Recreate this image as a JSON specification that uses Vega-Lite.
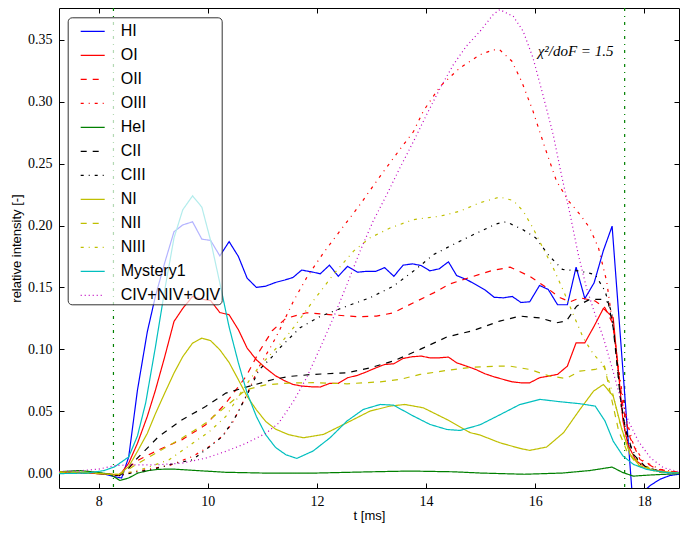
{
  "$schema": "https://vega.github.io/schema/vega-lite/v6.json",
  "width": 620,
  "height": 480,
  "autosize": {"type": "none"},
  "padding": {"left": 59, "top": 8, "right": 10, "bottom": 45},
  "background": "white",
  "config": {
    "view": {"stroke": "black", "strokeWidth": 1},
    "axis": {
      "domain": false, "grid": false, "tickSize": -5, "tickColor": "black", "tickWidth": 1,
      "labelFont": "Liberation Serif", "labelFontSize": 14, "labelColor": "black",
      "titleFont": "Liberation Sans", "titleFontSize": 13, "titleFontWeight": "normal", "titleColor": "black"
    },
    "legend": {
      "orient": "none", "legendX": 8.7, "legendY": 9.3, "padding": 1, "rowPadding": 3,
      "symbolType": "stroke", "symbolSize": 576, "symbolStrokeWidth": 1.2, "symbolOffset": 11,
      "labelOffset": 15, "labelFont": "Liberation Sans", "labelFontSize": 16, "labelColor": "black",
      "fillColor": "rgba(255,255,255,0.7)", "strokeColor": "#333333", "cornerRadius": 4
    }
  },
  "datasets": {
    "vlines": [{"t": 8.27}, {"t": 17.64}],
    "note": [{"t": 16.74, "v": 0.341, "label": "χ²/doF = 1.5"}],
    "lines": [
      {"s":"HI","t":7.27,"v":0.0005},{"s":"HI","t":7.6,"v":0.0005},{"s":"HI","t":7.95,"v":0.0},{"s":"HI","t":8.12,"v":-0.001},{"s":"HI","t":8.29,"v":-0.003},{"s":"HI","t":8.42,"v":-0.004},{"s":"HI","t":8.55,"v":0.013},{"s":"HI","t":8.71,"v":0.067},{"s":"HI","t":8.89,"v":0.114},{"s":"HI","t":9.04,"v":0.143},{"s":"HI","t":9.21,"v":0.17},{"s":"HI","t":9.38,"v":0.195},{"s":"HI","t":9.54,"v":0.2005},{"s":"HI","t":9.72,"v":0.203},{"s":"HI","t":9.89,"v":0.189},{"s":"HI","t":10.05,"v":0.188},{"s":"HI","t":10.22,"v":0.1755},{"s":"HI","t":10.39,"v":0.187},{"s":"HI","t":10.56,"v":0.175},{"s":"HI","t":10.72,"v":0.1575},{"s":"HI","t":10.89,"v":0.15},{"s":"HI","t":11.06,"v":0.151},{"s":"HI","t":11.24,"v":0.154},{"s":"HI","t":11.41,"v":0.156},{"s":"HI","t":11.56,"v":0.158},{"s":"HI","t":11.72,"v":0.164},{"s":"HI","t":11.9,"v":0.1626},{"s":"HI","t":12.06,"v":0.161},{"s":"HI","t":12.23,"v":0.168},{"s":"HI","t":12.39,"v":0.159},{"s":"HI","t":12.56,"v":0.167},{"s":"HI","t":12.74,"v":0.1623},{"s":"HI","t":12.91,"v":0.163},{"s":"HI","t":13.08,"v":0.163},{"s":"HI","t":13.24,"v":0.166},{"s":"HI","t":13.41,"v":0.159},{"s":"HI","t":13.58,"v":0.168},{"s":"HI","t":13.75,"v":0.169},{"s":"HI","t":13.91,"v":0.1677},{"s":"HI","t":14.07,"v":0.1634},{"s":"HI","t":14.24,"v":0.165},{"s":"HI","t":14.41,"v":0.1707},{"s":"HI","t":14.56,"v":0.1596},{"s":"HI","t":14.74,"v":0.1564},{"s":"HI","t":14.91,"v":0.1523},{"s":"HI","t":15.08,"v":0.148},{"s":"HI","t":15.25,"v":0.142},{"s":"HI","t":15.42,"v":0.1416},{"s":"HI","t":15.58,"v":0.1427},{"s":"HI","t":15.74,"v":0.1378},{"s":"HI","t":15.9,"v":0.1384},{"s":"HI","t":16.08,"v":0.1516},{"s":"HI","t":16.24,"v":0.1483},{"s":"HI","t":16.41,"v":0.136},{"s":"HI","t":16.59,"v":0.136},{"s":"HI","t":16.75,"v":0.1664},{"s":"HI","t":16.91,"v":0.141},{"s":"HI","t":17.08,"v":0.1537},{"s":"HI","t":17.25,"v":0.1798},{"s":"HI","t":17.41,"v":0.1995},{"s":"HI","t":17.8,"v":-0.03},{"s":"HI","t":17.96,"v":-0.016},{"s":"HI","t":18.11,"v":-0.01},{"s":"HI","t":18.29,"v":-0.005},{"s":"HI","t":18.47,"v":-0.002},{"s":"HI","t":18.64,"v":-0.001},
      {"s":"OI","t":7.27,"v":0.0005},{"s":"OI","t":7.8,"v":0.0},{"s":"OI","t":8.2,"v":-0.001},{"s":"OI","t":8.38,"v":-0.002},{"s":"OI","t":8.55,"v":0.008},{"s":"OI","t":8.71,"v":0.024},{"s":"OI","t":8.89,"v":0.0457},{"s":"OI","t":9.04,"v":0.067},{"s":"OI","t":9.21,"v":0.094},{"s":"OI","t":9.38,"v":0.1225},{"s":"OI","t":9.54,"v":0.133},{"s":"OI","t":9.72,"v":0.1427},{"s":"OI","t":9.89,"v":0.1405},{"s":"OI","t":10.05,"v":0.1394},{"s":"OI","t":10.22,"v":0.1297},{"s":"OI","t":10.39,"v":0.1279},{"s":"OI","t":10.56,"v":0.1158},{"s":"OI","t":10.72,"v":0.101},{"s":"OI","t":10.89,"v":0.0915},{"s":"OI","t":11.06,"v":0.0848},{"s":"OI","t":11.24,"v":0.0786},{"s":"OI","t":11.41,"v":0.0745},{"s":"OI","t":11.56,"v":0.0716},{"s":"OI","t":11.72,"v":0.0703},{"s":"OI","t":11.9,"v":0.0697},{"s":"OI","t":12.06,"v":0.0695},{"s":"OI","t":12.23,"v":0.0724},{"s":"OI","t":12.39,"v":0.0724},{"s":"OI","t":12.56,"v":0.077},{"s":"OI","t":12.74,"v":0.0789},{"s":"OI","t":12.91,"v":0.0818},{"s":"OI","t":13.08,"v":0.085},{"s":"OI","t":13.24,"v":0.0877},{"s":"OI","t":13.41,"v":0.0883},{"s":"OI","t":13.58,"v":0.0926},{"s":"OI","t":13.75,"v":0.094},{"s":"OI","t":13.91,"v":0.0945},{"s":"OI","t":14.07,"v":0.0931},{"s":"OI","t":14.24,"v":0.0931},{"s":"OI","t":14.41,"v":0.0937},{"s":"OI","t":14.56,"v":0.0891},{"s":"OI","t":14.74,"v":0.0864},{"s":"OI","t":14.91,"v":0.0837},{"s":"OI","t":15.08,"v":0.0802},{"s":"OI","t":15.25,"v":0.0777},{"s":"OI","t":15.42,"v":0.0756},{"s":"OI","t":15.58,"v":0.0737},{"s":"OI","t":15.74,"v":0.0729},{"s":"OI","t":15.9,"v":0.0729},{"s":"OI","t":16.08,"v":0.077},{"s":"OI","t":16.24,"v":0.0783},{"s":"OI","t":16.41,"v":0.0797},{"s":"OI","t":16.59,"v":0.0864},{"s":"OI","t":16.75,"v":0.1052},{"s":"OI","t":16.91,"v":0.1052},{"s":"OI","t":17.08,"v":0.1187},{"s":"OI","t":17.25,"v":0.133},{"s":"OI","t":17.37,"v":0.128},{"s":"OI","t":17.43,"v":0.1254},{"s":"OI","t":17.5,"v":0.093},{"s":"OI","t":17.56,"v":0.066},{"s":"OI","t":17.61,"v":0.042},{"s":"OI","t":17.7,"v":0.023},{"s":"OI","t":17.85,"v":0.0097},{"s":"OI","t":18.1,"v":0.003},{"s":"OI","t":18.41,"v":0.0005},{"s":"OI","t":18.64,"v":0.0},
      {"s":"OII","t":7.27,"v":0.0005},{"s":"OII","t":7.8,"v":0.0},{"s":"OII","t":8.2,"v":-0.001},{"s":"OII","t":8.38,"v":-0.001},{"s":"OII","t":8.55,"v":0.004},{"s":"OII","t":8.68,"v":0.0094},{"s":"OII","t":9.1,"v":0.0188},{"s":"OII","t":9.53,"v":0.027},{"s":"OII","t":9.96,"v":0.039},{"s":"OII","t":10.33,"v":0.0565},{"s":"OII","t":10.7,"v":0.078},{"s":"OII","t":10.94,"v":0.098},{"s":"OII","t":11.18,"v":0.115},{"s":"OII","t":11.43,"v":0.125},{"s":"OII","t":11.81,"v":0.1295},{"s":"OII","t":12.36,"v":0.1276},{"s":"OII","t":12.73,"v":0.1263},{"s":"OII","t":13.09,"v":0.1268},{"s":"OII","t":13.4,"v":0.1295},{"s":"OII","t":13.77,"v":0.1376},{"s":"OII","t":14.14,"v":0.1456},{"s":"OII","t":14.44,"v":0.1529},{"s":"OII","t":14.87,"v":0.159},{"s":"OII","t":15.2,"v":0.1635},{"s":"OII","t":15.54,"v":0.1664},{"s":"OII","t":15.9,"v":0.159},{"s":"OII","t":16.21,"v":0.1497},{"s":"OII","t":16.46,"v":0.1416},{"s":"OII","t":16.64,"v":0.1384},{"s":"OII","t":16.82,"v":0.1416},{"s":"OII","t":17.1,"v":0.139},{"s":"OII","t":17.28,"v":0.1335},{"s":"OII","t":17.43,"v":0.12},{"s":"OII","t":17.52,"v":0.085},{"s":"OII","t":17.61,"v":0.0527},{"s":"OII","t":17.74,"v":0.0285},{"s":"OII","t":17.92,"v":0.011},{"s":"OII","t":18.23,"v":0.003},{"s":"OII","t":18.64,"v":0.0005},
      {"s":"OIII","t":7.27,"v":0.0005},{"s":"OIII","t":7.8,"v":0.0},{"s":"OIII","t":8.2,"v":-0.001},{"s":"OIII","t":8.38,"v":-0.002},{"s":"OIII","t":8.55,"v":0.0},{"s":"OIII","t":8.86,"v":0.0027},{"s":"OIII","t":9.29,"v":0.006},{"s":"OIII","t":9.72,"v":0.0134},{"s":"OIII","t":10.03,"v":0.0215},{"s":"OIII","t":10.27,"v":0.03},{"s":"OIII","t":10.45,"v":0.0404},{"s":"OIII","t":10.7,"v":0.062},{"s":"OIII","t":10.94,"v":0.086},{"s":"OIII","t":11.18,"v":0.104},{"s":"OIII","t":11.32,"v":0.116},{"s":"OIII","t":11.57,"v":0.139},{"s":"OIII","t":11.81,"v":0.1578},{"s":"OIII","t":12.12,"v":0.178},{"s":"OIII","t":12.42,"v":0.1955},{"s":"OIII","t":12.79,"v":0.217},{"s":"OIII","t":13.16,"v":0.24},{"s":"OIII","t":13.52,"v":0.2615},{"s":"OIII","t":13.77,"v":0.276},{"s":"OIII","t":13.95,"v":0.2925},{"s":"OIII","t":14.26,"v":0.3126},{"s":"OIII","t":14.62,"v":0.3274},{"s":"OIII","t":14.99,"v":0.338},{"s":"OIII","t":15.23,"v":0.342},{"s":"OIII","t":15.35,"v":0.342},{"s":"OIII","t":15.57,"v":0.333},{"s":"OIII","t":15.75,"v":0.3166},{"s":"OIII","t":15.96,"v":0.2925},{"s":"OIII","t":16.18,"v":0.2628},{"s":"OIII","t":16.39,"v":0.236},{"s":"OIII","t":16.61,"v":0.22},{"s":"OIII","t":16.82,"v":0.209},{"s":"OIII","t":17.0,"v":0.198},{"s":"OIII","t":17.16,"v":0.182},{"s":"OIII","t":17.31,"v":0.155},{"s":"OIII","t":17.43,"v":0.1174},{"s":"OIII","t":17.56,"v":0.0743},{"s":"OIII","t":17.68,"v":0.042},{"s":"OIII","t":17.8,"v":0.023},{"s":"OIII","t":17.98,"v":0.0097},{"s":"OIII","t":18.29,"v":0.003},{"s":"OIII","t":18.64,"v":0.0005},
      {"s":"HeI","t":7.27,"v":0.001},{"s":"HeI","t":7.64,"v":0.002},{"s":"HeI","t":8.0,"v":0.0005},{"s":"HeI","t":8.2,"v":-0.001},{"s":"HeI","t":8.39,"v":-0.006},{"s":"HeI","t":8.55,"v":-0.004},{"s":"HeI","t":8.72,"v":0.0},{"s":"HeI","t":8.91,"v":0.002},{"s":"HeI","t":9.1,"v":0.003},{"s":"HeI","t":9.36,"v":0.0032},{"s":"HeI","t":9.72,"v":0.0022},{"s":"HeI","t":10.33,"v":0.0006},{"s":"HeI","t":11.0,"v":0.0},{"s":"HeI","t":12.0,"v":0.0},{"s":"HeI","t":13.0,"v":0.001},{"s":"HeI","t":13.7,"v":0.0016},{"s":"HeI","t":14.5,"v":0.001},{"s":"HeI","t":15.0,"v":0.0},{"s":"HeI","t":15.8,"v":-0.001},{"s":"HeI","t":16.5,"v":0.0},{"s":"HeI","t":17.0,"v":0.002},{"s":"HeI","t":17.41,"v":0.0048},{"s":"HeI","t":17.6,"v":0.0005},{"s":"HeI","t":17.8,"v":-0.0025},{"s":"HeI","t":18.1,"v":-0.0016},{"s":"HeI","t":18.64,"v":-0.0005},
      {"s":"CII","t":7.27,"v":0.0005},{"s":"CII","t":7.8,"v":0.0},{"s":"CII","t":8.2,"v":-0.001},{"s":"CII","t":8.38,"v":-0.002},{"s":"CII","t":8.55,"v":0.004},{"s":"CII","t":8.68,"v":0.0107},{"s":"CII","t":9.1,"v":0.0296},{"s":"CII","t":9.53,"v":0.043},{"s":"CII","t":9.96,"v":0.0538},{"s":"CII","t":10.33,"v":0.0646},{"s":"CII","t":10.75,"v":0.07},{"s":"CII","t":11.18,"v":0.0754},{"s":"CII","t":11.48,"v":0.078},{"s":"CII","t":11.93,"v":0.0797},{"s":"CII","t":12.55,"v":0.081},{"s":"CII","t":12.97,"v":0.085},{"s":"CII","t":13.4,"v":0.0905},{"s":"CII","t":13.89,"v":0.0999},{"s":"CII","t":14.38,"v":0.1099},{"s":"CII","t":14.87,"v":0.1152},{"s":"CII","t":15.35,"v":0.1228},{"s":"CII","t":15.72,"v":0.1268},{"s":"CII","t":16.09,"v":0.1254},{"s":"CII","t":16.39,"v":0.1214},{"s":"CII","t":16.57,"v":0.1228},{"s":"CII","t":16.76,"v":0.1349},{"s":"CII","t":17.0,"v":0.1403},{"s":"CII","t":17.25,"v":0.1403},{"s":"CII","t":17.34,"v":0.1376},{"s":"CII","t":17.43,"v":0.1174},{"s":"CII","t":17.5,"v":0.0877},{"s":"CII","t":17.56,"v":0.0608},{"s":"CII","t":17.65,"v":0.0366},{"s":"CII","t":17.8,"v":0.015},{"s":"CII","t":18.04,"v":0.0043},{"s":"CII","t":18.4,"v":0.0005},{"s":"CII","t":18.64,"v":0.0},
      {"s":"CIII","t":7.27,"v":0.0005},{"s":"CIII","t":7.8,"v":0.0},{"s":"CIII","t":8.2,"v":-0.001},{"s":"CIII","t":8.38,"v":-0.002},{"s":"CIII","t":8.6,"v":0.0},{"s":"CIII","t":9.0,"v":0.003},{"s":"CIII","t":9.29,"v":0.0067},{"s":"CIII","t":9.72,"v":0.0107},{"s":"CIII","t":9.96,"v":0.0188},{"s":"CIII","t":10.27,"v":0.0296},{"s":"CIII","t":10.51,"v":0.0457},{"s":"CIII","t":10.75,"v":0.066},{"s":"CIII","t":10.94,"v":0.0834},{"s":"CIII","t":11.18,"v":0.094},{"s":"CIII","t":11.32,"v":0.1012},{"s":"CIII","t":11.69,"v":0.1174},{"s":"CIII","t":12.06,"v":0.1266},{"s":"CIII","t":12.55,"v":0.1349},{"s":"CIII","t":12.97,"v":0.1416},{"s":"CIII","t":13.4,"v":0.151},{"s":"CIII","t":13.77,"v":0.1632},{"s":"CIII","t":14.14,"v":0.1766},{"s":"CIII","t":14.5,"v":0.1847},{"s":"CIII","t":14.87,"v":0.1927},{"s":"CIII","t":15.29,"v":0.2014},{"s":"CIII","t":15.47,"v":0.203},{"s":"CIII","t":15.77,"v":0.1968},{"s":"CIII","t":16.01,"v":0.19},{"s":"CIII","t":16.26,"v":0.1753},{"s":"CIII","t":16.5,"v":0.1645},{"s":"CIII","t":16.82,"v":0.1632},{"s":"CIII","t":17.1,"v":0.1604},{"s":"CIII","t":17.28,"v":0.147},{"s":"CIII","t":17.41,"v":0.128},{"s":"CIII","t":17.5,"v":0.0905},{"s":"CIII","t":17.58,"v":0.0527},{"s":"CIII","t":17.7,"v":0.0258},{"s":"CIII","t":17.92,"v":0.007},{"s":"CIII","t":18.29,"v":0.0008},{"s":"CIII","t":18.64,"v":0.0},
      {"s":"NI","t":7.27,"v":0.001},{"s":"NI","t":7.8,"v":0.0005},{"s":"NI","t":8.2,"v":-0.001},{"s":"NI","t":8.38,"v":-0.001},{"s":"NI","t":8.55,"v":0.0053},{"s":"NI","t":8.71,"v":0.0175},{"s":"NI","t":8.89,"v":0.032},{"s":"NI","t":9.04,"v":0.048},{"s":"NI","t":9.21,"v":0.0646},{"s":"NI","t":9.38,"v":0.0808},{"s":"NI","t":9.54,"v":0.094},{"s":"NI","t":9.72,"v":0.105},{"s":"NI","t":9.89,"v":0.109},{"s":"NI","t":10.05,"v":0.107},{"s":"NI","t":10.22,"v":0.0996},{"s":"NI","t":10.39,"v":0.0893},{"s":"NI","t":10.56,"v":0.0754},{"s":"NI","t":10.72,"v":0.0619},{"s":"NI","t":10.89,"v":0.0511},{"s":"NI","t":11.06,"v":0.0417},{"s":"NI","t":11.24,"v":0.0355},{"s":"NI","t":11.48,"v":0.031},{"s":"NI","t":11.75,"v":0.0285},{"s":"NI","t":12.12,"v":0.0312},{"s":"NI","t":12.55,"v":0.0406},{"s":"NI","t":12.97,"v":0.05},{"s":"NI","t":13.34,"v":0.0541},{"s":"NI","t":13.61,"v":0.0554},{"s":"NI","t":13.95,"v":0.0527},{"s":"NI","t":14.38,"v":0.0433},{"s":"NI","t":14.81,"v":0.0326},{"s":"NI","t":14.99,"v":0.0307},{"s":"NI","t":15.35,"v":0.0245},{"s":"NI","t":15.72,"v":0.0199},{"s":"NI","t":15.9,"v":0.0183},{"s":"NI","t":16.21,"v":0.021},{"s":"NI","t":16.52,"v":0.0326},{"s":"NI","t":16.82,"v":0.0514},{"s":"NI","t":17.07,"v":0.0662},{"s":"NI","t":17.25,"v":0.0716},{"s":"NI","t":17.43,"v":0.0622},{"s":"NI","t":17.58,"v":0.0366},{"s":"NI","t":17.74,"v":0.015},{"s":"NI","t":17.92,"v":0.0057},{"s":"NI","t":18.23,"v":0.0016},{"s":"NI","t":18.64,"v":0.0},
      {"s":"NII","t":7.27,"v":0.0005},{"s":"NII","t":7.8,"v":0.0},{"s":"NII","t":8.2,"v":-0.001},{"s":"NII","t":8.38,"v":-0.001},{"s":"NII","t":8.55,"v":0.003},{"s":"NII","t":8.68,"v":0.0067},{"s":"NII","t":9.1,"v":0.0175},{"s":"NII","t":9.53,"v":0.0283},{"s":"NII","t":9.96,"v":0.0404},{"s":"NII","t":10.33,"v":0.0538},{"s":"NII","t":10.7,"v":0.0673},{"s":"NII","t":11.06,"v":0.0713},{"s":"NII","t":11.48,"v":0.0727},{"s":"NII","t":11.93,"v":0.073},{"s":"NII","t":12.55,"v":0.0721},{"s":"NII","t":13.16,"v":0.0737},{"s":"NII","t":13.52,"v":0.0756},{"s":"NII","t":13.89,"v":0.0797},{"s":"NII","t":14.38,"v":0.0829},{"s":"NII","t":14.87,"v":0.0856},{"s":"NII","t":15.35,"v":0.0864},{"s":"NII","t":15.54,"v":0.0864},{"s":"NII","t":15.9,"v":0.0837},{"s":"NII","t":16.27,"v":0.0783},{"s":"NII","t":16.57,"v":0.0764},{"s":"NII","t":16.82,"v":0.0824},{"s":"NII","t":17.1,"v":0.0837},{"s":"NII","t":17.27,"v":0.0864},{"s":"NII","t":17.41,"v":0.058},{"s":"NII","t":17.53,"v":0.034},{"s":"NII","t":17.68,"v":0.0178},{"s":"NII","t":17.89,"v":0.0057},{"s":"NII","t":18.25,"v":0.0008},{"s":"NII","t":18.64,"v":0.0},
      {"s":"NIII","t":7.27,"v":0.0005},{"s":"NIII","t":7.8,"v":0.0},{"s":"NIII","t":8.2,"v":-0.001},{"s":"NIII","t":8.38,"v":-0.001},{"s":"NIII","t":8.6,"v":0.001},{"s":"NIII","t":8.86,"v":0.004},{"s":"NIII","t":9.29,"v":0.0107},{"s":"NIII","t":9.72,"v":0.024},{"s":"NIII","t":10.03,"v":0.0336},{"s":"NIII","t":10.33,"v":0.0457},{"s":"NIII","t":10.64,"v":0.0673},{"s":"NIII","t":10.94,"v":0.086},{"s":"NIII","t":11.32,"v":0.1039},{"s":"NIII","t":11.57,"v":0.1174},{"s":"NIII","t":11.93,"v":0.139},{"s":"NIII","t":12.3,"v":0.1604},{"s":"NIII","t":12.67,"v":0.1793},{"s":"NIII","t":12.97,"v":0.19},{"s":"NIII","t":13.34,"v":0.198},{"s":"NIII","t":13.77,"v":0.2048},{"s":"NIII","t":14.26,"v":0.2076},{"s":"NIII","t":14.62,"v":0.2116},{"s":"NIII","t":14.99,"v":0.2185},{"s":"NIII","t":15.35,"v":0.223},{"s":"NIII","t":15.6,"v":0.2202},{"s":"NIII","t":15.78,"v":0.2116},{"s":"NIII","t":15.96,"v":0.198},{"s":"NIII","t":16.14,"v":0.182},{"s":"NIII","t":16.33,"v":0.1658},{"s":"NIII","t":16.52,"v":0.147},{"s":"NIII","t":16.7,"v":0.128},{"s":"NIII","t":16.88,"v":0.1093},{"s":"NIII","t":17.07,"v":0.0958},{"s":"NIII","t":17.25,"v":0.0877},{"s":"NIII","t":17.41,"v":0.066},{"s":"NIII","t":17.56,"v":0.0393},{"s":"NIII","t":17.7,"v":0.0204},{"s":"NIII","t":17.92,"v":0.007},{"s":"NIII","t":18.29,"v":0.0008},{"s":"NIII","t":18.64,"v":0.0},
      {"s":"Mystery1","t":7.27,"v":-0.0005},{"s":"Mystery1","t":7.8,"v":0.0},{"s":"Mystery1","t":8.1,"v":0.002},{"s":"Mystery1","t":8.29,"v":0.005},{"s":"Mystery1","t":8.55,"v":0.013},{"s":"Mystery1","t":8.71,"v":0.03},{"s":"Mystery1","t":8.86,"v":0.0565},{"s":"Mystery1","t":9.04,"v":0.102},{"s":"Mystery1","t":9.21,"v":0.148},{"s":"Mystery1","t":9.38,"v":0.19},{"s":"Mystery1","t":9.54,"v":0.2127},{"s":"Mystery1","t":9.72,"v":0.224},{"s":"Mystery1","t":9.89,"v":0.2149},{"s":"Mystery1","t":10.05,"v":0.188},{"s":"Mystery1","t":10.22,"v":0.1535},{"s":"Mystery1","t":10.39,"v":0.118},{"s":"Mystery1","t":10.56,"v":0.089},{"s":"Mystery1","t":10.72,"v":0.0646},{"s":"Mystery1","t":10.89,"v":0.0457},{"s":"Mystery1","t":11.06,"v":0.031},{"s":"Mystery1","t":11.24,"v":0.0207},{"s":"Mystery1","t":11.43,"v":0.0148},{"s":"Mystery1","t":11.63,"v":0.0118},{"s":"Mystery1","t":11.93,"v":0.0178},{"s":"Mystery1","t":12.24,"v":0.0285},{"s":"Mystery1","t":12.55,"v":0.042},{"s":"Mystery1","t":12.85,"v":0.0514},{"s":"Mystery1","t":13.16,"v":0.0554},{"s":"Mystery1","t":13.4,"v":0.0549},{"s":"Mystery1","t":13.77,"v":0.046},{"s":"Mystery1","t":14.07,"v":0.0393},{"s":"Mystery1","t":14.38,"v":0.0352},{"s":"Mystery1","t":14.62,"v":0.0344},{"s":"Mystery1","t":14.99,"v":0.039},{"s":"Mystery1","t":15.35,"v":0.047},{"s":"Mystery1","t":15.72,"v":0.0554},{"s":"Mystery1","t":16.09,"v":0.0595},{"s":"Mystery1","t":16.46,"v":0.0576},{"s":"Mystery1","t":16.82,"v":0.056},{"s":"Mystery1","t":17.1,"v":0.0541},{"s":"Mystery1","t":17.28,"v":0.042},{"s":"Mystery1","t":17.43,"v":0.0258},{"s":"Mystery1","t":17.61,"v":0.0137},{"s":"Mystery1","t":17.8,"v":0.007},{"s":"Mystery1","t":18.04,"v":0.003},{"s":"Mystery1","t":18.41,"v":0.0003},{"s":"Mystery1","t":18.64,"v":0.0},
      {"s":"CIV+NIV+OIV","t":7.27,"v":0.0013},{"s":"CIV+NIV+OIV","t":7.7,"v":0.002},{"s":"CIV+NIV+OIV","t":8.0,"v":0.0032},{"s":"CIV+NIV+OIV","t":8.3,"v":0.006},{"s":"CIV+NIV+OIV","t":8.55,"v":0.0065},{"s":"CIV+NIV+OIV","t":9.1,"v":0.0067},{"s":"CIV+NIV+OIV","t":9.53,"v":0.008},{"s":"CIV+NIV+OIV","t":9.96,"v":0.012},{"s":"CIV+NIV+OIV","t":10.33,"v":0.0175},{"s":"CIV+NIV+OIV","t":10.7,"v":0.024},{"s":"CIV+NIV+OIV","t":11.06,"v":0.032},{"s":"CIV+NIV+OIV","t":11.3,"v":0.0404},{"s":"CIV+NIV+OIV","t":11.57,"v":0.058},{"s":"CIV+NIV+OIV","t":11.81,"v":0.077},{"s":"CIV+NIV+OIV","t":12.06,"v":0.1012},{"s":"CIV+NIV+OIV","t":12.3,"v":0.1254},{"s":"CIV+NIV+OIV","t":12.55,"v":0.1523},{"s":"CIV+NIV+OIV","t":12.79,"v":0.1793},{"s":"CIV+NIV+OIV","t":13.03,"v":0.2036},{"s":"CIV+NIV+OIV","t":13.28,"v":0.225},{"s":"CIV+NIV+OIV","t":13.52,"v":0.2466},{"s":"CIV+NIV+OIV","t":13.77,"v":0.268},{"s":"CIV+NIV+OIV","t":14.01,"v":0.2896},{"s":"CIV+NIV+OIV","t":14.26,"v":0.3112},{"s":"CIV+NIV+OIV","t":14.5,"v":0.33},{"s":"CIV+NIV+OIV","t":14.74,"v":0.345},{"s":"CIV+NIV+OIV","t":14.99,"v":0.357},{"s":"CIV+NIV+OIV","t":15.23,"v":0.3705},{"s":"CIV+NIV+OIV","t":15.35,"v":0.3745},{"s":"CIV+NIV+OIV","t":15.6,"v":0.369},{"s":"CIV+NIV+OIV","t":15.78,"v":0.357},{"s":"CIV+NIV+OIV","t":15.96,"v":0.3355},{"s":"CIV+NIV+OIV","t":16.14,"v":0.3059},{"s":"CIV+NIV+OIV","t":16.33,"v":0.2735},{"s":"CIV+NIV+OIV","t":16.48,"v":0.2412},{"s":"CIV+NIV+OIV","t":16.64,"v":0.209},{"s":"CIV+NIV+OIV","t":16.79,"v":0.1766},{"s":"CIV+NIV+OIV","t":16.94,"v":0.1497},{"s":"CIV+NIV+OIV","t":17.1,"v":0.128},{"s":"CIV+NIV+OIV","t":17.25,"v":0.1093},{"s":"CIV+NIV+OIV","t":17.41,"v":0.085},{"s":"CIV+NIV+OIV","t":17.56,"v":0.0608},{"s":"CIV+NIV+OIV","t":17.71,"v":0.042},{"s":"CIV+NIV+OIV","t":17.89,"v":0.0258},{"s":"CIV+NIV+OIV","t":18.11,"v":0.0124},{"s":"CIV+NIV+OIV","t":18.35,"v":0.0043},{"s":"CIV+NIV+OIV","t":18.64,"v":0.001}
    ]
  },
  "resolve": {"axis": {"x": "independent", "y": "independent"}},
  "layer": [
    {
      "data": {"name": "vlines"},
      "mark": {"type": "rule", "color": "#008000", "strokeWidth": 1.2, "strokeDash": [3, 5, 1, 5]},
      "encoding": {
        "x": {"field": "t", "type": "quantitative",
              "scale": {"domain": [7.272, 18.636], "nice": false, "zero": false},
              "axis": {"orient": "top", "values": [8, 10, 12, 14, 16, 18], "labels": false, "title": null}}
      }
    },
    {
      "data": {"name": "lines"},
      "mark": {"type": "line", "clip": true, "strokeWidth": 1.2},
      "encoding": {
        "x": {"field": "t", "type": "quantitative",
              "scale": {"domain": [7.272, 18.636], "nice": false, "zero": false},
              "axis": {"orient": "bottom", "values": [8, 10, 12, 14, 16, 18], "format": "d", "labelPadding": 11,
                       "title": "t [ms]", "titleX": 310, "titleY": 27, "titleBaseline": "middle", "titleAlign": "center"}},
        "y": {"field": "v", "type": "quantitative",
              "scale": {"domain": [-0.0121, 0.3758], "nice": false, "zero": false},
              "axis": {"orient": "left", "values": [0, 0.05, 0.1, 0.15, 0.2, 0.25, 0.3, 0.35], "format": ".2f", "labelPadding": 12,
                       "title": "relative intensity [-]", "titleX": -43, "titleY": 240, "titleAngle": -90,
                       "titleBaseline": "middle", "titleAlign": "center"}},
        "color": {"field": "s", "type": "nominal", "title": null,
                  "scale": {"domain": ["HI","OI","OII","OIII","HeI","CII","CIII","NI","NII","NIII","Mystery1","CIV+NIV+OIV"],
                            "range": ["#0000ff","#ff0000","#ff0000","#ff0000","#008000","#000000","#000000","#bfbf00","#bfbf00","#bfbf00","#00bfbf","#bf00bf"]}},
        "strokeDash": {"field": "s", "type": "nominal", "title": null,
                  "scale": {"domain": ["HI","OI","OII","OIII","HeI","CII","CIII","NI","NII","NIII","Mystery1","CIV+NIV+OIV"],
                            "range": [[1,0],[1,0],[6,6],[3,5,1,5],[1,0],[6,6],[3,5,1,5],[1,0],[6,6],[3,5,1,5],[1,0],[1,3]]}}
      }
    },
    {
      "data": {"name": "note"},
      "mark": {"type": "text", "font": "Liberation Serif", "fontStyle": "italic", "fontSize": 15, "align": "center", "baseline": "middle", "color": "black"},
      "encoding": {
        "x": {"field": "t", "type": "quantitative",
              "scale": {"domain": [7.272, 18.636], "nice": false, "zero": false}, "axis": null},
        "y": {"field": "v", "type": "quantitative",
              "scale": {"domain": [-0.0121, 0.3758], "nice": false, "zero": false},
              "axis": {"orient": "right", "values": [0, 0.05, 0.1, 0.15, 0.2, 0.25, 0.3, 0.35], "labels": false, "title": null}},
        "text": {"field": "label"}
      }
    }
  ]
}
